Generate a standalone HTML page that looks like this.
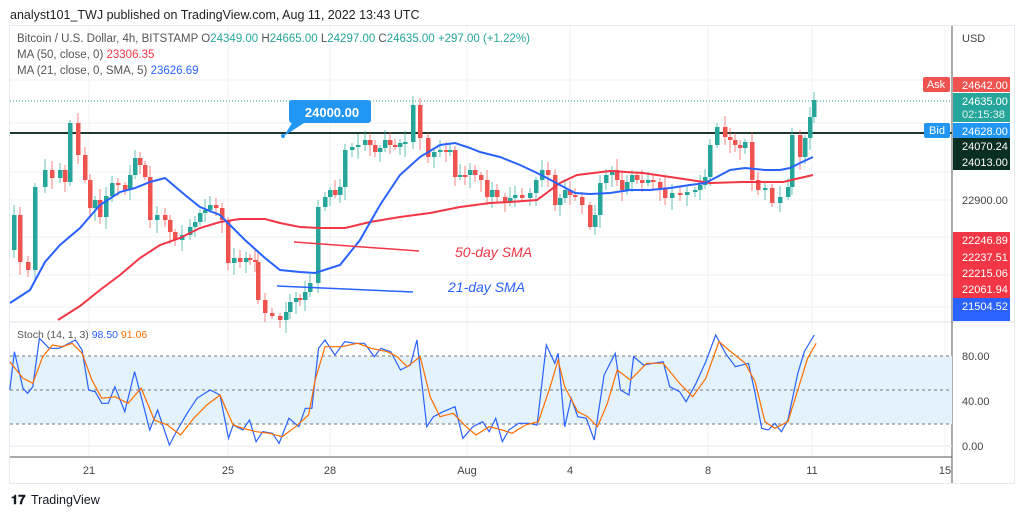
<!DOCTYPE html>
<html><head><meta charset="utf-8"><style>
body{margin:0;width:1024px;height:517px;background:#fff;overflow:hidden;font-family:"Liberation Sans",sans-serif}
svg{position:absolute;left:0;top:0}
</style></head><body>
<svg id="s" width="1024" height="517" xmlns="http://www.w3.org/2000/svg" font-family="Liberation Sans, sans-serif">
<text x="10" y="19" font-size="12.5" fill="#222">analyst101_TWJ published on TradingView.com, Aug 11, 2022 13:43 UTC</text>
<rect x="9.5" y="25.5" width="1005" height="458" fill="none" stroke="#e6ebf1"/>
<g stroke="#edf1f5" stroke-width="1">
<line x1="10" y1="80" x2="952" y2="80"/><line x1="10" y1="123" x2="952" y2="123"/><line x1="10" y1="172" x2="952" y2="172"/><line x1="10" y1="200" x2="952" y2="200"/><line x1="10" y1="237" x2="952" y2="237"/><line x1="10" y1="275" x2="952" y2="275"/><line x1="10" y1="307" x2="952" y2="307"/>
<line x1="89" y1="26" x2="89" y2="457"/><line x1="228" y1="26" x2="228" y2="457"/><line x1="330" y1="26" x2="330" y2="457"/><line x1="467" y1="26" x2="467" y2="457"/><line x1="570" y1="26" x2="570" y2="457"/><line x1="708" y1="26" x2="708" y2="457"/><line x1="812" y1="26" x2="812" y2="457"/><line x1="945" y1="26" x2="945" y2="457"/>
</g>
<line x1="10" y1="322" x2="1014" y2="322" stroke="#e0e3eb"/>
<line x1="10" y1="457" x2="952" y2="457" stroke="#555"/>
<line x1="952" y1="26" x2="952" y2="483" stroke="#555"/>
<line x1="10" y1="101" x2="952" y2="101" stroke="#26a69a" stroke-dasharray="1,2"/>
<line x1="10" y1="133" x2="952" y2="133" stroke="#1e3a2e" stroke-width="2"/>
<rect x="10" y="356" width="942" height="68" fill="#e3f2fd"/>
<g stroke="#777" stroke-dasharray="3,3"><line x1="10" y1="356" x2="952" y2="356"/><line x1="10" y1="390" x2="952" y2="390"/><line x1="10" y1="424" x2="952" y2="424"/></g>
<line x1="10" y1="446" x2="952" y2="446" stroke="#e6ebf1"/>
<g id="candles"></g>
<polyline id="red" fill="none" stroke="#f23645" stroke-width="2"/>
<polyline id="blue" fill="none" stroke="#2962ff" stroke-width="2"/>
<polyline id="sb" fill="none" stroke="#2962ff" stroke-width="1.2"/>
<polyline id="so" fill="none" stroke="#ff6d00" stroke-width="1.2"/>
<line x1="294" y1="242" x2="419" y2="251" stroke="#f23645" stroke-width="1.5"/>
<line x1="277" y1="286" x2="413" y2="292" stroke="#2962ff" stroke-width="1.5"/>
<text x="455" y="257" font-size="14" font-style="italic" fill="#f23645">50-day SMA</text>
<text x="448" y="292" font-size="14" font-style="italic" fill="#2962ff">21-day SMA</text>
<path d="M296 100 h72 a3 3 0 0 1 3 3 v17 a3 3 0 0 1 -3 3 h-64 l-20 13 l8 -13 a3 3 0 0 1 -3 -3 v-17 a3 3 0 0 1 3 -3z" fill="#2196f3"/>
<circle cx="283" cy="136" r="2" fill="#2196f3"/>
<text x="332" y="117" font-size="13" font-weight="bold" fill="#fff" text-anchor="middle">24000.00</text>
<text x="17" y="42" font-size="11.5" fill="#555">Bitcoin / U.S. Dollar, 4h, BITSTAMP  O<tspan fill="#26a69a">24349.00</tspan>  H<tspan fill="#26a69a">24665.00</tspan>  L<tspan fill="#26a69a">24297.00</tspan>  C<tspan fill="#26a69a">24635.00  +297.00 (+1.22%)</tspan></text>
<text x="17" y="58" font-size="11.5" fill="#555">MA (50, close, 0)  <tspan fill="#f23645">23306.35</tspan></text>
<text x="17" y="74" font-size="11.5" fill="#555">MA (21, close, 0, SMA, 5)  <tspan fill="#2962ff">23626.69</tspan></text>
<text x="17" y="338" font-size="10.5" fill="#555">Stoch (14, 1, 3)  <tspan fill="#2962ff">98.50</tspan>  <tspan fill="#ff6d00">91.06</tspan></text>
<text x="962" y="42" font-size="11" fill="#444">USD</text>
<text x="962" y="204" font-size="11" fill="#444">22900.00</text>
<rect x="923" y="77" width="27" height="15" rx="2" fill="#ef5350"/><text x="936" y="88" font-size="11" fill="#fff" text-anchor="middle">Ask</text>
<rect x="953" y="77" width="57" height="15" fill="#ef5350"/><text x="962" y="89" font-size="11" fill="#fff">24642.00</text>
<rect x="953" y="93" width="57" height="29" fill="#26a69a"/><text x="962" y="105" font-size="11" fill="#fff">24635.00</text><text x="962" y="118" font-size="11" fill="#e0f2f1">02:15:38</text>
<rect x="924" y="123" width="26" height="15" rx="2" fill="#2196f3"/><text x="937" y="134" font-size="11" fill="#fff" text-anchor="middle">Bid</text>
<rect x="953" y="123" width="57" height="15" fill="#2196f3"/><text x="962" y="135" font-size="11" fill="#fff">24628.00</text>
<rect x="953" y="138" width="57" height="32" fill="#0b2e22"/><text x="962" y="150" font-size="11" fill="#fff">24070.24</text><text x="962" y="166" font-size="11" fill="#fff">24013.00</text>
<rect x="953" y="232" width="57" height="66" fill="#f23645"/>
<text x="962" y="244" font-size="11" fill="#fff">22246.89</text><text x="962" y="261" font-size="11" fill="#fff">22237.51</text><text x="962" y="277" font-size="11" fill="#fff">22215.06</text><text x="962" y="293" font-size="11" fill="#fff">22061.94</text>
<rect x="953" y="298" width="57" height="23" fill="#2962ff"/><text x="962" y="310" font-size="11" fill="#fff">21504.52</text>
<text x="962" y="360" font-size="11" fill="#444">80.00</text><text x="962" y="405" font-size="11" fill="#444">40.00</text><text x="962" y="450" font-size="11" fill="#444">0.00</text>
<g font-size="11" fill="#444" text-anchor="middle">
<text x="89" y="474">21</text><text x="228" y="474">25</text><text x="330" y="474">28</text><text x="467" y="474">Aug</text><text x="570" y="474">4</text><text x="708" y="474">8</text><text x="812" y="474">11</text><text x="945" y="474">15</text></g>
<text x="11" y="504" font-size="13" font-weight="bold" fill="#131722">𝟏𝟕</text>
<text x="31" y="504" font-size="12.5" fill="#131722">TradingView</text>
</svg>
<script>
var P=[[10,250],[14,215],[20,262],[28,270],[35,187],[45,170],[52,178],[60,170],[65,182],[70,123],[78,155],[85,180],[90,208],[95,200],[100,217],[106,196],[112,183],[118,185],[125,190],[130,175],[135,158],[140,165],[145,177],[150,220],[157,215],[165,220],[170,232],[175,240],[182,235],[190,227],[195,222],[200,213],[205,210],[210,205],[216,208],[222,220],[228,263],[234,258],[240,262],[246,258],[250,260],[255,262],[258,300],[265,313],[272,316],[280,320],[286,312],[290,302],[296,298],[300,300],[305,292],[310,283],[318,207],[325,197],[330,190],[335,195],[340,187],[345,150],[352,147],[358,145],[365,140],[370,145],[375,152],[380,148],[385,140],[390,145],[395,147],[400,143],[405,142],[413,105],[420,138],[428,157],[434,152],[440,150],[446,152],[450,150],[455,177],[460,175],[465,175],[470,170],[475,175],[481,180],[487,197],[492,190],[497,197],[505,202],[510,198],[515,195],[522,198],[530,193],[536,180],[542,170],[548,175],[555,205],[560,198],[565,190],[570,195],[575,197],[582,205],[590,227],[595,215],[600,183],[606,175],[612,170],[617,180],[622,190],[627,182],[632,175],[637,180],[642,183],[648,180],[653,182],[660,188],[665,198],[672,193],[680,195],[687,192],[695,190],[700,185],[705,177],[710,145],[717,127],[725,137],[730,140],[735,145],[740,148],[745,142],[752,180],[758,190],[765,188],[772,203],[780,197],[788,187],[792,135],[800,157],[805,138],[810,117],[814,100]];
var g='';for(var i=1;i<P.length;i++){var o=P[i-1][1],c=P[i][1],x=P[i][0],up=c<o,col=up?'#26a69a':'#ef5350';var t=Math.min(o,c),b=Math.max(o,c);var w1=3+((i*7)%9),w2=3+((i*5)%11);if(b-t<2){b=t+2}
g+='<line x1="'+x+'" y1="'+(t-w1)+'" x2="'+x+'" y2="'+(b+w2)+'" stroke="'+col+'" stroke-width="1" opacity="0.7"/><rect x="'+(x-2)+'" y="'+t+'" width="4.5" height="'+(b-t)+'" fill="'+col+'"/>';}
document.getElementById('candles').innerHTML=g;
function pl(id,a){document.getElementById(id).setAttribute('points',a.map(function(p){return p.join(',')}).join(' '))}
pl('blue',[[10,303],[30,290],[45,262],[60,245],[80,228],[100,205],[120,192],[135,188],[150,182],[165,178],[185,195],[200,207],[220,215],[245,240],[265,258],[280,270],[300,272],[315,273],[340,265],[360,240],[380,205],[400,175],[420,157],[440,145],[455,143],[470,148],[480,152],[500,157],[520,165],[535,172],[545,177],[560,185],[575,193],[590,194],[610,193],[630,190],[650,190],[670,188],[690,185],[705,183],[715,178],[730,170],[745,168],[765,170],[780,170],[790,168],[800,163],[813,157]]);
pl('red',[[58,320],[80,306],[100,290],[120,275],[140,258],[160,245],[180,238],[200,228],[220,222],[240,219],[265,219],[280,223],[300,227],[320,228],[345,228],[370,222],[400,217],[430,213],[460,207],[490,203],[510,202],[537,200],[560,183],[577,175],[610,171],[643,173],[677,178],[710,183],[743,182],[783,182],[813,175]]);
function cv(a){return a.map(function(p){return[(p[0]/1.523).toFixed(1),(320+p[1]/3).toFixed(1)]})}
pl('sb',cv([[15,210],[22,95],[35,205],[42,220],[50,200],[60,55],[75,85],[90,85],[100,75],[115,60],[125,90],[135,210],[145,215],[155,250],[165,250],[175,200],[190,275],[205,155],[215,230],[228,330],[240,270],[258,375],[270,330],[285,280],[300,235],[320,210],[335,225],[348,355],[355,315],[370,330],[380,300],[390,365],[400,335],[415,340],[425,370],[440,295],[455,320],[465,265],[475,265],[485,85],[495,60],[510,105],[525,65],[540,70],[555,70],[570,110],[580,85],[595,95],[610,150],[625,135],[635,60],[650,320],[660,290],[675,275],[693,260],[705,355],[720,320],[735,305],[745,335],[755,295],[765,365],[775,330],[790,310],[805,310],[818,315],[832,75],[845,130],[850,100],[860,320],[870,235],[880,290],[893,295],[905,360],[920,165],[937,100],[945,210],[958,225],[965,110],[980,135],[995,130],[1010,125],[1020,200],[1035,215],[1045,245],[1060,190],[1075,125],[1090,45],[1105,100],[1120,140],[1140,130],[1150,220],[1160,325],[1170,330],[1180,310],[1190,335],[1200,300],[1215,160],[1225,95],[1240,45]]));
pl('so',cv([[15,125],[35,175],[50,190],[65,110],[80,75],[95,80],[110,70],[125,100],[140,180],[155,235],[175,230],[195,250],[215,205],[235,300],[255,315],[275,345],[295,295],[315,255],[335,225],[355,315],[370,325],[390,335],[410,340],[430,350],[450,320],[470,285],[480,180],[495,80],[520,80],[545,70],[565,85],[590,95],[605,110],[620,140],[640,110],[655,230],[670,290],[690,280],[710,320],[725,345],[745,320],[765,330],[780,340],[800,315],[820,305],[838,200],[850,120],[860,200],[880,275],[895,290],[910,320],[925,250],[940,150],[960,180],[985,130],[1010,130],[1035,190],[1055,230],[1075,175],[1095,65],[1110,90],[1135,130],[1150,185],[1165,305],[1180,325],[1200,305],[1215,210],[1230,115],[1243,70]]));
</script>
</body></html>
